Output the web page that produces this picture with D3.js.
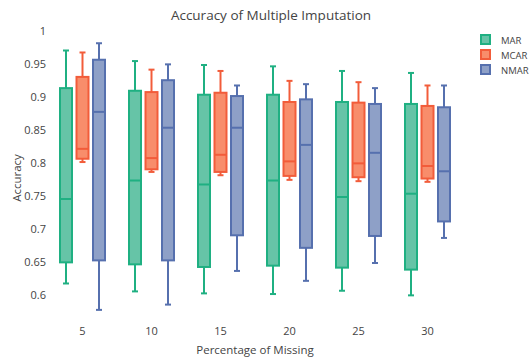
<!DOCTYPE html>
<html>
<head>
<meta charset="utf-8">
<script src="https://cdn.jsdelivr.net/npm/d3@7/dist/d3.min.js"></script>
<style>
  body { margin: 0; background: #fff; }
  svg text { font-family: "Open Sans", verdana, arial, sans-serif; fill: #444; }
</style>
</head>
<body>
<div id="chart"></div>
<script>
// x categories (percentage of missing values)
const categories = ['5', '10', '15', '20', '25', '30'];
const seriesNames = ['MAR', 'MCAR', 'NMAR'];

// box stats per category: [lower whisker, q1, median, q3, upper whisker]
const marStats = [
  [0.617, 0.649, 0.745, 0.913, 0.970],
  [0.605, 0.646, 0.773, 0.909, 0.954],
  [0.602, 0.642, 0.767, 0.903, 0.948],
  [0.601, 0.644, 0.773, 0.903, 0.946],
  [0.606, 0.641, 0.748, 0.892, 0.939],
  [0.599, 0.638, 0.753, 0.889, 0.936]
];
const mcarStats = [
  [0.801, 0.806, 0.821, 0.930, 0.967],
  [0.786, 0.790, 0.807, 0.907, 0.941],
  [0.781, 0.786, 0.812, 0.906, 0.939],
  [0.774, 0.780, 0.802, 0.892, 0.924],
  [0.772, 0.778, 0.799, 0.891, 0.922],
  [0.771, 0.776, 0.795, 0.886, 0.917]
];
const nmarStats = [
  [0.577, 0.652, 0.877, 0.956, 0.981],
  [0.585, 0.652, 0.853, 0.925, 0.949],
  [0.636, 0.690, 0.853, 0.901, 0.917],
  [0.621, 0.671, 0.827, 0.896, 0.919],
  [0.648, 0.689, 0.815, 0.889, 0.913],
  [0.686, 0.711, 0.787, 0.884, 0.917]
];
const yTicks = [0.6, 0.65, 0.7, 0.75, 0.8, 0.85, 0.9, 0.95, 1];

const lineColors = ['#1fb082', '#f25c3a', '#5670ae'];
const fillColors = ['#66c4a7', '#f88d6b', '#8ea0c7'];

const width = 529;
const height = 359;

const svg = d3.select('#chart').append('svg')
  .attr('width', width)
  .attr('height', height);

const x = d3.scaleBand()
  .domain(categories)
  .range([48, 462]);

const xSub = d3.scalePoint()
  .domain(seriesNames)
  .range([-16.5, 16.5]);

const y = d3.scaleLinear()
  .domain([0.55, 1.0])
  .range([327.7, 30.7]);

const boxWidth = 12;

// title
svg.append('text')
  .attr('x', 271)
  .attr('y', 20)
  .attr('text-anchor', 'middle')
  .style('font-size', '13.5px')
  .text('Accuracy of Multiple Imputation');

// y axis
const yAxis = svg.append('g')
  .attr('transform', 'translate(48,0)')
  .call(d3.axisLeft(y).tickValues(yTicks).tickSize(0).tickPadding(2)
    .tickFormat(d => String(+d.toFixed(2))));
yAxis.select('.domain').remove();
yAxis.selectAll('text').style('font-size', '11px').style('fill', '#444');

// x axis
const xAxis = svg.append('g')
  .attr('transform', 'translate(0,318)')
  .call(d3.axisBottom(x).tickSize(0).tickPadding(9));
xAxis.select('.domain').remove();
xAxis.selectAll('text').style('font-size', '11px').style('fill', '#444');

// axis titles
svg.append('text')
  .attr('x', 255)
  .attr('y', 354)
  .attr('text-anchor', 'middle')
  .style('font-size', '11.5px')
  .text('Percentage of Missing');

svg.append('text')
  .attr('transform', 'translate(21,178) rotate(-90)')
  .attr('text-anchor', 'middle')
  .style('font-size', '11.5px')
  .text('Accuracy');

// boxes
const allStats = [marStats, mcarStats, nmarStats];
seriesNames.forEach((name, si) => {
  const g = svg.append('g').attr('class', 'series-' + name);
  const boxes = g.selectAll('g.box')
    .data(allStats[si])
    .enter()
    .append('g')
    .attr('class', 'box')
    .attr('transform', (d, i) => 'translate(' + (x(categories[i]) + x.bandwidth() / 2 + xSub(name)) + ',0)');

  // whisker line
  boxes.append('line')
    .attr('x1', 0).attr('x2', 0)
    .attr('y1', d => y(d[0]))
    .attr('y2', d => y(d[4]))
    .attr('stroke', lineColors[si])
    .attr('stroke-width', 2);

  // whisker caps
  [0, 4].forEach(k => {
    boxes.append('line')
      .attr('x1', -boxWidth / 4).attr('x2', boxWidth / 4)
      .attr('y1', d => y(d[k]))
      .attr('y2', d => y(d[k]))
      .attr('stroke', lineColors[si])
      .attr('stroke-width', 2);
  });

  // box body
  boxes.append('rect')
    .attr('x', -boxWidth / 2)
    .attr('width', boxWidth)
    .attr('y', d => y(d[3]))
    .attr('height', d => y(d[1]) - y(d[3]))
    .attr('fill', fillColors[si])
    .attr('stroke', lineColors[si])
    .attr('stroke-width', 2);

  // median
  boxes.append('line')
    .attr('x1', -boxWidth / 2).attr('x2', boxWidth / 2)
    .attr('y1', d => y(d[2]))
    .attr('y2', d => y(d[2]))
    .attr('stroke', lineColors[si])
    .attr('stroke-width', 2);
});

// legend
const legend = svg.append('g')
  .attr('transform', 'translate(480,34)');
const items = legend.selectAll('g')
  .data(seriesNames)
  .enter()
  .append('g')
  .attr('transform', (d, i) => 'translate(0,' + (i * 15) + ')');
items.append('rect')
  .attr('x', 1).attr('y', 1)
  .attr('width', 9).attr('height', 9)
  .attr('fill', (d, i) => fillColors[i])
  .attr('stroke', (d, i) => lineColors[i])
  .attr('stroke-width', 2);
items.append('text')
  .attr('x', 21)
  .attr('y', 9.5)
  .style('font-size', '9.5px')
  .text(d => d);
</script>
</body>
</html>
